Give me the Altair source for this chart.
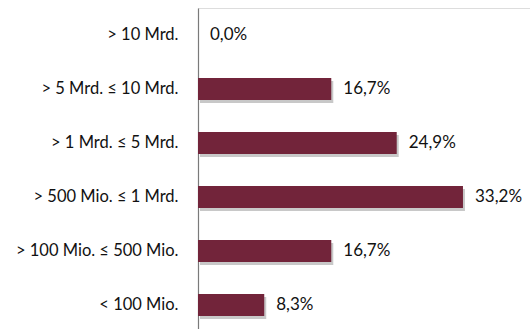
import altair as alt
import pandas as pd

categories = ["> 10 Mrd.", "> 5 Mrd. ≤ 10 Mrd.", "> 1 Mrd. ≤ 5 Mrd.",
              "> 500 Mio. ≤ 1 Mrd.", "> 100 Mio. ≤ 500 Mio.", "< 100 Mio."]
values = [0.0, 16.7, 24.9, 33.2, 16.7, 8.3]
labels = ["0,0%", "16,7%", "24,9%", "33,2%", "16,7%", "8,3%"]

df = pd.DataFrame({"cat": categories, "val": values, "lab": labels})

FONT = "Lato"
x = alt.X("val:Q", scale=alt.Scale(domain=[0, 41.6], nice=False, zero=True), axis=None)
y = alt.Y("cat:N", sort=categories,
          scale=alt.Scale(paddingInner=0.59, paddingOuter=0.295),
          axis=alt.Axis(title=None, ticks=False, domain=True, domainColor="#7a7a7a",
                        domainWidth=1.2, labelPadding=20, labelFontSize=16.5,
                        labelFont=FONT, labelColor="#111111", grid=False))

base = alt.Chart(df)
shadow = base.mark_bar(color="#9a9a9a", opacity=0.55, xOffset=2, yOffset=3).encode(x=x, y=y)
bars = base.mark_bar(color="#72243a").encode(x=x, y=y)
text = base.mark_text(align="left", baseline="middle", dx=12, fontSize=17,
                      font=FONT, color="#111111").encode(x=x, y=y, text="lab:N")

chart = alt.layer(shadow, bars, text).properties(
    width=332, height=324,
    padding={"left": 198, "top": 8, "right": 0, "bottom": 0},
    autosize=alt.AutoSizeParams(type="none"),
).configure_view(stroke=None).configure(background="white")

chart.save("out.html", embed_options={"renderer": "svg", "actions": False})
